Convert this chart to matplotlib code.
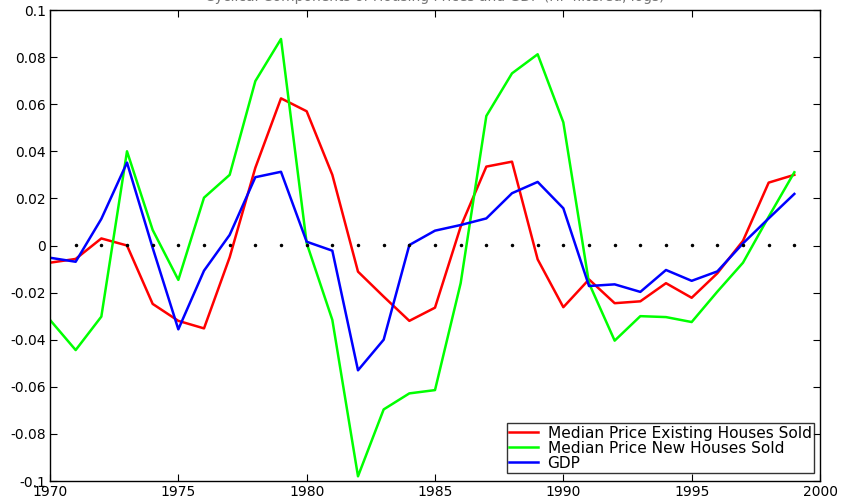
import matplotlib
matplotlib.use("Agg")
import matplotlib.pyplot as plt
from matplotlib.ticker import FuncFormatter, MultipleLocator

# cyclical components, 1970-1999
years = list(range(1970, 2000))

existing = [-0.0073, -0.0057, 0.0030, 0.0000, -0.0248, -0.0320, -0.0352, -0.0050,
            0.0330, 0.0625, 0.0570, 0.0300, -0.0111, -0.0217, -0.0320, -0.0264,
            0.0080, 0.0335, 0.0356, -0.0059, -0.0262, -0.0144, -0.0245, -0.0237,
            -0.0160, -0.0222, -0.0118, 0.0020, 0.0267, 0.0300]

new = [-0.0316, -0.0444, -0.0302, 0.0400, 0.0066, -0.0146, 0.0203, 0.0300,
       0.0698, 0.0877, 0.0010, -0.0316, -0.0980, -0.0696, -0.0628, -0.0614,
       -0.0160, 0.0550, 0.0731, 0.0812, 0.0523, -0.0160, -0.0404, -0.0300,
       -0.0304, -0.0325, -0.0196, -0.0073, 0.0122, 0.0311]

gdp = [-0.0052, -0.0069, 0.0113, 0.0352, -0.0010, -0.0356, -0.0107, 0.0045,
       0.0290, 0.0313, 0.0016, -0.0022, -0.0530, -0.0400, 0.0002, 0.0063,
       0.0087, 0.0115, 0.0222, 0.0270, 0.0158, -0.0172, -0.0165, -0.0197,
       -0.0104, -0.0150, -0.0110, 0.0009, 0.0115, 0.0219]

labels = ["Median Price Existing Houses Sold", "Median Price New Houses Sold", "GDP"]
title = "Cyclical Components of Housing Prices and GDP (HP filtered, logs)"

plt.rcParams["font.family"] = ["DejaVu Sans"]

fig = plt.figure(figsize=(8.44, 4.98), dpi=100)
ax = fig.add_axes([50 / 844, 1 - 481 / 498, 770 / 844, 471 / 498])

ax.plot(years, existing, color="#ff0000", lw=1.8, label=labels[0])
ax.plot(years, new, color="#00ff00", lw=1.8, label=labels[1])
ax.plot(years, gdp, color="#0000ff", lw=1.8, label=labels[2])
ax.plot(years[1:], [0] * (len(years) - 1), "k.", ms=3)

ax.set_xlim(1970, 2000)
ax.set_ylim(-0.1, 0.1)
ax.xaxis.set_major_locator(MultipleLocator(5))
ax.yaxis.set_major_locator(MultipleLocator(0.02))
ax.yaxis.set_major_formatter(FuncFormatter(lambda v, p: "0" if abs(v) < 1e-9 else f"{v:g}"))
ax.tick_params(direction="in", length=5, top=True, right=True, labelsize=10, pad=3)
for s in ax.spines.values():
    s.set_linewidth(1)

leg = ax.legend(loc="lower right", fontsize=11.1, frameon=True, fancybox=False,
                borderpad=0.15, labelspacing=0.0, handlelength=1.9, handletextpad=0.6,
                borderaxespad=0, bbox_to_anchor=(0.992, 0.017))
leg.get_frame().set_edgecolor("black")
leg.get_frame().set_linewidth(1)

# title is clipped by the top edge in the reference
fig.text(435 / 844, 1 - 1 / 498, title, ha="center", va="baseline",
         color="#777777", fontsize=10)

fig.savefig("out.png", dpi=100)
